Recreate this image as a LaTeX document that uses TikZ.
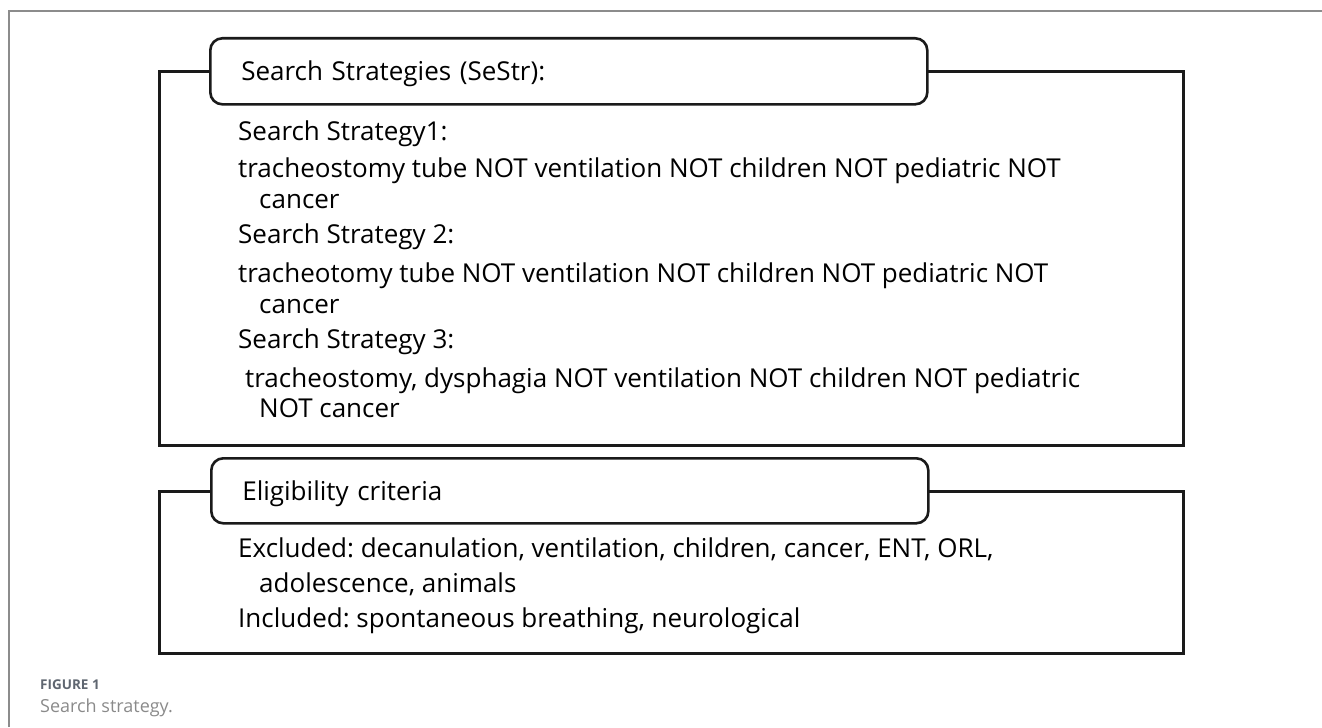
\documentclass[tikz,border=0pt]{standalone}
\usepackage{fontspec}
\setmainfont{Open Sans}
\usetikzlibrary{positioning}
\frenchspacing

\definecolor{boxline}{HTML}{1A1A1A}
\definecolor{framegray}{HTML}{8C8C8C}
\definecolor{capgray}{HTML}{5F6670}
\definecolor{capsub}{HTML}{8A8A8A}

\tikzstyle{framebox} = [rectangle, draw=boxline, line width=2.6bp, inner sep=0, anchor=north west]
\tikzstyle{headbox} = [rectangle, rounded corners=12bp, draw=boxline, line width=2.6bp, fill=white, inner xsep=31bp, inner ysep=0, text width=655bp, align=left, text height=18.5bp, text depth=0bp, anchor=north west, font=\fontsize{26bp}{31bp}\selectfont]
\tikzstyle{entry} = [anchor=base west, inner sep=0, font=\fontsize{26bp}{31bp}\selectfont]

\begin{document}
\begin{tikzpicture}[x=1bp, y=-1bp]
\useasboundingbox (0,0) rectangle (1322,727);
% outer figure frame
\draw[framegray, line width=1.5bp] (9,727) -- (9,11) -- (1322,11);

% search strategies
\node (sesbox) [framebox, minimum width=1024bp, minimum height=374bp] at (158,70) {};
\node (seshead) [headbox, minimum height=66bp] at (209,37) {Search Strategies (SeStr):};
\node (ses1) [entry] at (238,140) {Search Strategy1:};
\node (ses1a) [entry] at (238,177) {tracheostomy tube NOT ventilation NOT children NOT pediatric NOT};
\node (ses1b) [entry] at (259,208) {cancer};
\node (ses2) [entry] at (238,243) {Search Strategy 2:};
\node (ses2a) [entry] at (238,282) {tracheotomy tube NOT ventilation NOT children NOT pediatric NOT};
\node (ses2b) [entry] at (259,313) {cancer};
\node (ses3) [entry] at (238,348) {Search Strategy 3:};
\node (ses3a) [entry] at (245,387) {tracheostomy, dysphagia NOT ventilation NOT children NOT pediatric};
\node (ses3b) [entry] at (259,417) {NOT cancer};

% eligibility
\node (elbox) [framebox, minimum width=1024bp, minimum height=162bp] at (158,490) {};
\node (elhead) [headbox, minimum height=65bp] at (210,457) {Eligibility criteria};
\node (elexa) [entry] at (238,557) {Excluded: decanulation, ventilation, children, cancer, ENT, ORL,};
\node (elexb) [entry] at (259,592) {adolescence, animals};
\node (elinc) [entry] at (238,627) {Included: spontaneous breathing, neurological};

% caption
\node (capnum) [anchor=base west, inner sep=0, text=capgray, font=\fontsize{13.5bp}{16bp}\selectfont\bfseries] at (40,689) {FIGURE 1};
\node (captext) [anchor=base west, inner sep=0, text=capsub, font=\fontsize{18bp}{22bp}\selectfont] at (40,712) {Search strategy.};
\end{tikzpicture}
\end{document}
